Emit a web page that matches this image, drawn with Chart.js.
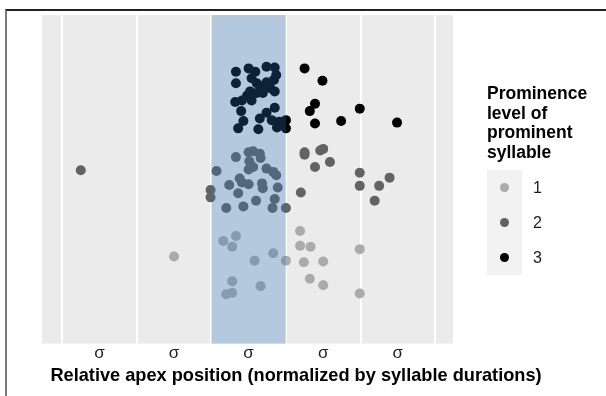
<!DOCTYPE html>
<html>
<head>
<meta charset="utf-8">
<script src="https://cdn.jsdelivr.net/npm/chart.js@4.4.1/dist/chart.umd.min.js"></script>
<style>
    html, body { margin: 0; padding: 0; background: #fff; }
    #frame {
        position: absolute; left: 5px; top: 9px; right: 0; bottom: 0;
        border-top: 2px solid #222; border-left: 2px solid #7a7a7a;
    }
    #myCanvas { position: absolute; left: 0; top: 0; }
</style>
</head>
<body>
<div id="frame"></div>
<canvas id="myCanvas" width="606" height="396"></canvas>
<script>
const levels = ["1", "2", "3"];
const levelColors = ["#ababab", "#636363", "#000000"];

// jittered points, x = relative apex position, y = prominence level + jitter
const level1X = [2.16, 2.33, 2.28, 2.58, 2.83, 3.00, 2.28, 2.66, 2.20, 2.28, 1.50, 3.19, 3.19, 3.33, 3.24, 3.50, 3.32, 3.50, 3.99, 3.99];
const level1Y = [1.25, 1.31, 1.18, 1.01, 1.10, 1.01, 0.76, 0.70, 0.60, 0.62, 1.06, 1.37, 1.19, 1.18, 0.99, 1.00, 0.79, 0.71, 1.15, 0.61];

const level2X = [2.33, 2.50, 2.56, 2.65, 2.66, 2.51, 2.56, 2.50, 2.07, 2.74, 2.83, 2.87, 2.38, 2.41, 2.50, 2.24, 2.68, 2.69, 2.89, 1.99, 1.99, 2.36, 2.60, 2.85, 2.20, 2.43, 2.82, 3.00,
    3.25, 3.25, 3.46, 3.50, 3.59, 3.39, 3.99, 4.39, 3.99, 4.25, 3.20, 4.19, 0.25];
const level2Y = [2.27, 2.33, 2.34, 2.31, 2.26, 2.22, 2.15, 2.12, 2.10, 2.13, 2.09, 2.05, 2.01, 1.96, 1.94, 1.93, 1.95, 1.89, 1.90, 1.87, 1.78, 1.83, 1.74, 1.76, 1.65, 1.67, 1.65, 1.65,
    2.33, 2.30, 2.35, 2.37, 2.21, 2.15, 2.08, 2.02, 1.92, 1.92, 1.84, 1.74, 2.11];

const level3X = [2.33, 2.50, 2.59, 2.74, 2.85, 2.87, 2.33, 2.54, 2.61, 2.74, 2.84, 2.68, 2.52, 2.48, 2.61, 2.32, 2.41, 2.54, 2.69, 2.79, 2.85, 2.40, 2.85, 2.43, 2.36, 2.63, 2.65, 2.74, 2.81, 2.91, 2.88, 3.00, 3.00,
    3.25, 3.49, 3.39, 3.32, 3.99, 3.74, 3.39, 4.49];
const level3Y = [3.31, 3.35, 3.31, 3.37, 3.36, 3.27, 3.17, 3.23, 3.17, 3.18, 3.21, 3.13, 3.07, 3.02, 3.05, 2.94, 2.96, 2.96, 3.05, 3.11, 3.07, 2.83, 2.87, 2.71, 2.62, 2.61, 2.74, 2.81, 2.72, 2.70, 2.63, 2.72, 2.62,
    3.35, 3.20, 2.92, 2.83, 2.86, 2.71, 2.68, 2.69];

const gridBreaks = [0, 1, 2, 3, 4, 5];
const tickPositions = [0.5, 1.5, 2.5, 3.5, 4.5];
const tickLabel = "σ";
const prominentRange = [2, 3];
const xTitle = "Relative apex position (normalized by syllable durations)";
const legendTitle = ["Prominence", "level of", "prominent", "syllable"];

const FONT = "'Liberation Sans', Arial, sans-serif";

const toPoints = (xs, ys) => xs.map((x, i) => ({ x: x, y: ys[i] }));

const data = {
    datasets: [
        { label: levels[0], data: toPoints(level1X, level1Y), backgroundColor: levelColors[0] },
        { label: levels[1], data: toPoints(level2X, level2Y), backgroundColor: levelColors[1] },
        { label: levels[2], data: toPoints(level3X, level3Y), backgroundColor: levelColors[2] },
    ].map((ds) => ({ ...ds, pointRadius: 5, pointHoverRadius: 5, borderWidth: 0 })),
};

// grey ggplot panel behind the grid
const panelBackground = {
    id: "panelBackground",
    beforeDraw(chart) {
        const { ctx, chartArea } = chart;
        ctx.save();
        ctx.fillStyle = "#ebebeb";
        ctx.fillRect(chartArea.left, chartArea.top, chartArea.right - chartArea.left, chartArea.bottom - chartArea.top);
        ctx.restore();
    },
};

// translucent blue band over the prominent syllable, drawn on top of the points
const prominentBand = {
    id: "prominentBand",
    afterDatasetsDraw(chart) {
        const { ctx, chartArea, scales } = chart;
        const x0 = scales.x.getPixelForValue(prominentRange[0]);
        const x1 = scales.x.getPixelForValue(prominentRange[1]);
        ctx.save();
        ctx.fillStyle = "rgba(45, 114, 190, 0.29)";
        ctx.fillRect(x0, chartArea.top, x1 - x0, chartArea.bottom - chartArea.top);
        ctx.restore();
    },
};

// axis title sits off-centre in the original, so it is drawn here
const axisTitle = {
    id: "axisTitle",
    afterDraw(chart) {
        const ctx = chart.ctx;
        ctx.save();
        ctx.fillStyle = "#000";
        ctx.font = "bold 18.2px " + FONT;
        ctx.textAlign = "center";
        ctx.textBaseline = "alphabetic";
        ctx.fillText(xTitle, 296, 381);
        ctx.restore();
    },
};

// ggplot style legend on the right
const sideLegend = {
    id: "sideLegend",
    afterDraw(chart) {
        const ctx = chart.ctx;
        const left = 487;
        ctx.save();
        ctx.fillStyle = "#000";
        ctx.font = "bold 17.5px " + FONT;
        ctx.textBaseline = "alphabetic";
        legendTitle.forEach((line, i) => ctx.fillText(line, left, 99 + i * 19.5));

        const keyTop = 170;
        const keySize = 35;
        ctx.fillStyle = "#f2f2f2";
        ctx.fillRect(left, keyTop, keySize, keySize * chart.data.datasets.length);

        ctx.font = "16px " + FONT;
        ctx.textBaseline = "middle";
        chart.data.datasets.forEach((ds, i) => {
            const cy = keyTop + keySize * i + keySize / 2;
            ctx.beginPath();
            ctx.arc(left + keySize / 2, cy, 4.5, 0, Math.PI * 2);
            ctx.fillStyle = ds.backgroundColor;
            ctx.fill();
            ctx.fillStyle = "#1a1a1a";
            ctx.fillText(ds.label, left + 46, cy + 1);
        });
        ctx.restore();
    },
};

new Chart(document.getElementById("myCanvas"), {
    type: "scatter",
    data,
    plugins: [panelBackground, prominentBand, axisTitle, sideLegend],
    options: {
        responsive: false,
        animation: false,
        devicePixelRatio: 1,
        layout: {
            padding: { left: 42, top: 15, right: 153, bottom: 32 },
        },
        plugins: {
            legend: { display: false },
            tooltip: { enabled: false },
        },
        scales: {
            x: {
                type: "linear",
                min: -0.27,
                max: 5.24,
                afterBuildTicks: (scale) => {
                    scale.ticks = [...gridBreaks, ...tickPositions]
                        .sort((a, b) => a - b)
                        .map((v) => ({ value: v }));
                },
                border: { display: false },
                grid: {
                    color: (c) => (c.tick && gridBreaks.includes(c.tick.value) ? "#ffffff" : "rgba(0,0,0,0)"),
                    lineWidth: 2,
                    drawTicks: false,
                },
                ticks: {
                    autoSkip: false,
                    maxRotation: 0,
                    padding: 0,
                    color: "#222",
                    font: { family: FONT, size: 17 },
                    callback: (value) => (tickPositions.includes(value) ? tickLabel : ""),
                },
            },
            y: {
                type: "linear",
                min: 0,
                max: 4,
                display: false,
            },
        },
    },
});
</script>
</body>
</html>
